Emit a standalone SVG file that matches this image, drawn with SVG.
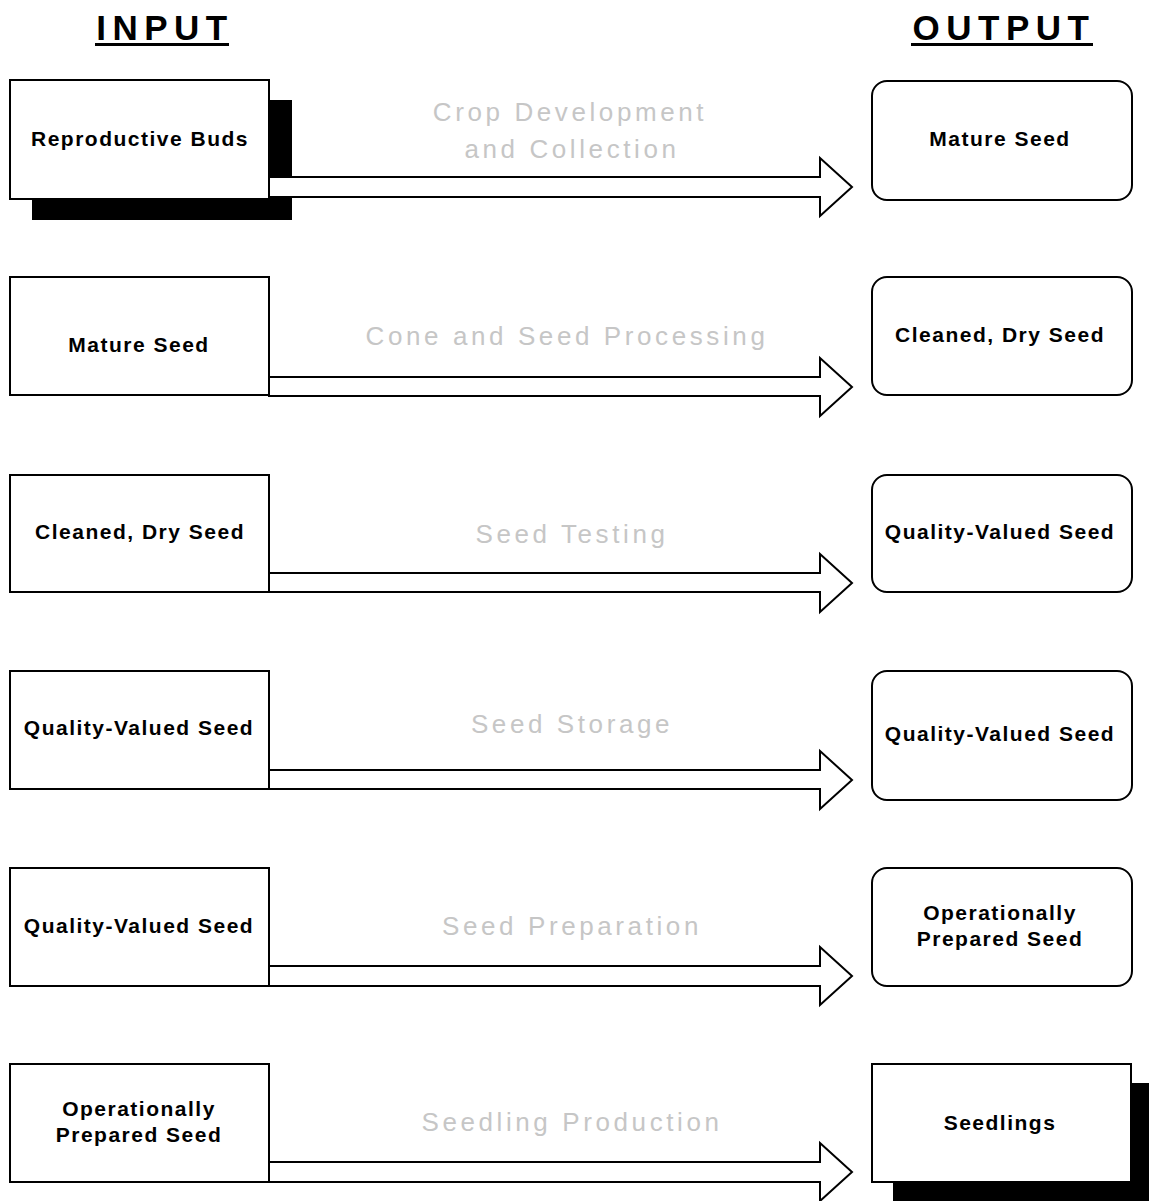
<svg xmlns="http://www.w3.org/2000/svg" width="1149" height="1201" viewBox="0 0 1149 1201">
<style>
.box{fill:#fff;stroke:#000;stroke-width:2}
.shadow{fill:#000}
.arrow{fill:#fff;stroke:#000;stroke-width:2;stroke-linejoin:miter}
.t{font-family:"Liberation Sans",Arial,sans-serif;font-weight:bold;font-size:21px;letter-spacing:1.5px;text-anchor:middle;fill:#000}
.h{font-family:"Liberation Sans",Arial,sans-serif;font-weight:bold;font-size:35px;letter-spacing:6.5px;text-anchor:middle;fill:#000}
.g{font-family:"Liberation Sans",Arial,sans-serif;font-size:26px;letter-spacing:3.6px;text-anchor:middle;fill:#c6c6c6}
</style>
<rect width="1149" height="1201" fill="#fff"/>
<g id="headers">
<text class="h" x="165" y="40">INPUT</text>
<rect x="95" y="43" width="134" height="3" fill="#000"/>
<text class="h" x="1004" y="40">OUTPUT</text>
<rect x="911" y="43" width="182" height="3" fill="#000"/>
</g>
<g id="in1"><rect class="shadow" x="32" y="100" width="260" height="120"/><rect class="box" x="10" y="80" width="259" height="119"/><text class="t" x="140" y="146">Reproductive Buds</text></g>
<g id="in2"><rect class="box" x="10" y="277" width="259" height="118"/><text class="t" x="139" y="352">Mature Seed</text></g>
<g id="in3"><rect class="box" x="10" y="475" width="259" height="117"/><text class="t" x="140" y="539">Cleaned, Dry Seed</text></g>
<g id="in4"><rect class="box" x="10" y="671" width="259" height="118"/><text class="t" x="139" y="735">Quality-Valued Seed</text></g>
<g id="in5"><rect class="box" x="10" y="868" width="259" height="118"/><text class="t" x="139" y="933">Quality-Valued Seed</text></g>
<g id="in6"><rect class="box" x="10" y="1064" width="259" height="118"/><text class="t" x="139" y="1116">Operationally</text><text class="t" x="139" y="1142">Prepared Seed</text></g>
<g id="connectors">
<polygon class="arrow" points="269,177 820,177 820,158 852,187 820,216 820,197 269,197"/>
<polygon class="arrow" points="269,377 820,377 820,358 852,387 820,416 820,396 269,396"/>
<polygon class="arrow" points="269,573 820,573 820,554 852,583 820,612 820,592 269,592"/>
<polygon class="arrow" points="269,770 820,770 820,751 852,780 820,809 820,789 269,789"/>
<polygon class="arrow" points="269,966 820,966 820,947 852,976 820,1005 820,986 269,986"/>
<polygon class="arrow" points="269,1162 820,1162 820,1143 852,1172 820,1201 820,1182 269,1182"/>
</g>
<g id="labels">
<text class="g" x="570" y="121">Crop Development</text>
<text class="g" x="572" y="158">and Collection</text>
<text class="g" x="567" y="345">Cone and Seed Processing</text>
<text class="g" x="572" y="543">Seed Testing</text>
<text class="g" x="572" y="733">Seed Storage</text>
<text class="g" x="572" y="935">Seed Preparation</text>
<text class="g" x="572" y="1131">Seedling Production</text>
</g>
<g id="out1"><rect class="box" x="872" y="81" width="260" height="119" rx="15"/><text class="t" x="1000" y="146">Mature Seed</text></g>
<g id="out2"><rect class="box" x="872" y="277" width="260" height="118" rx="15"/><text class="t" x="1000" y="342">Cleaned, Dry Seed</text></g>
<g id="out3"><rect class="box" x="872" y="475" width="260" height="117" rx="15"/><text class="t" x="1000" y="539">Quality-Valued Seed</text></g>
<g id="out4"><rect class="box" x="872" y="671" width="260" height="129" rx="15"/><text class="t" x="1000" y="741">Quality-Valued Seed</text></g>
<g id="out5"><rect class="box" x="872" y="868" width="260" height="118" rx="15"/><text class="t" x="1000" y="920">Operationally</text><text class="t" x="1000" y="946">Prepared Seed</text></g>
<g id="out6"><rect class="shadow" x="893" y="1083" width="260" height="120"/><rect class="box" x="872" y="1064" width="259" height="118"/><text class="t" x="1000" y="1130">Seedlings</text></g>
</svg>
